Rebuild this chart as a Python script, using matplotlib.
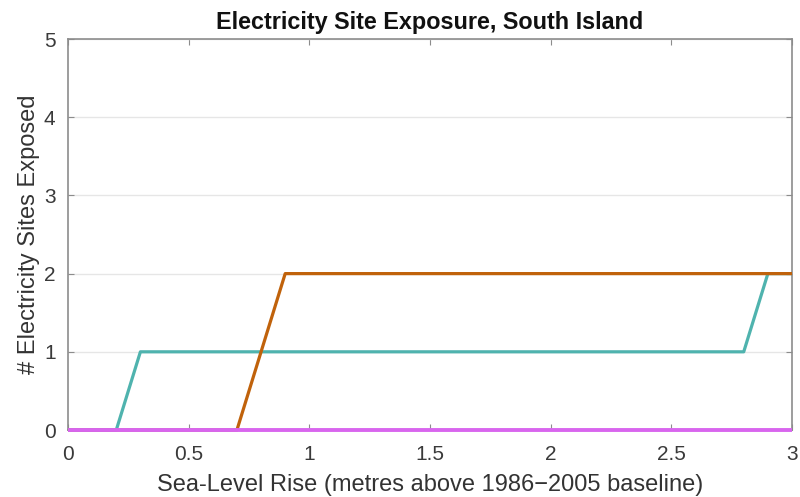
import matplotlib
matplotlib.use("Agg")
import matplotlib.pyplot as plt

plt.rcParams['font.family'] = ['Liberation Sans', 'DejaVu Sans']

# Sea-level rise steps (metres) and exposed site counts per scenario
slr = [0.0, 0.1, 0.2, 0.3, 0.4, 0.5, 0.6, 0.7, 0.8, 0.9, 1.0,
       1.1, 1.2, 1.3, 1.4, 1.5, 1.6, 1.7, 1.8, 1.9, 2.0,
       2.1, 2.2, 2.3, 2.4, 2.5, 2.6, 2.7, 2.8, 2.9, 3.0]
teal_sites = [0, 0, 0, 1, 1, 1, 1, 1, 1, 1, 1,
              1, 1, 1, 1, 1, 1, 1, 1, 1, 1,
              1, 1, 1, 1, 1, 1, 1, 1, 2, 2]
orange_sites = [0, 0, 0, 0, 0, 0, 0, 0, 1, 2, 2,
                2, 2, 2, 2, 2, 2, 2, 2, 2, 2,
                2, 2, 2, 2, 2, 2, 2, 2, 2, 2]
magenta_sites = [0] * len(slr)

x_ticks = [0, 0.5, 1, 1.5, 2, 2.5, 3]
x_ticklabels = ['0', '0.5', '1', '1.5', '2', '2.5', '3']
y_ticks = [0, 1, 2, 3, 4, 5]

fig = plt.figure(figsize=(8, 4.97), dpi=100)
ax = fig.add_axes([0.085, 0.1348, 0.905, 0.7867])

ax.plot(slr, teal_sites, color='#4fb3ae', lw=2.3, solid_capstyle='butt', clip_on=False, zorder=3)
ax.plot(slr, orange_sites, color='#c0620b', lw=2.3, solid_capstyle='butt', clip_on=False, zorder=3)
ax.plot(slr, magenta_sites, color='#d865ee', lw=2.8, solid_capstyle='butt', clip_on=False, zorder=4)

ax.set_xlim(0, 3)
ax.set_ylim(0, 5)
ax.set_xticks(x_ticks)
ax.set_xticklabels(x_ticklabels)
ax.set_yticks(y_ticks)
ax.yaxis.grid(True, color='#e6e6e6', lw=1)
ax.set_axisbelow(True)

for s in ax.spines.values():
    s.set_color('#8c8c8c')
    s.set_linewidth(1.2)

ax.tick_params(axis='both', direction='in', length=4, width=0.8, color='#8c8c8c',
               labelsize=15, labelcolor='#3a3a3a', top=True, right=True)
ax.tick_params(axis='x', pad=11)
ax.tick_params(axis='y', pad=9)

ax.set_title('Electricity Site Exposure, South Island', fontsize=16.8,
             fontweight='bold', color='#111111', pad=7)
ax.set_xlabel('Sea-Level Rise (metres above 1986\u22122005 baseline)', fontsize=17,
              color='#333333', labelpad=7)
ax.set_ylabel('# Electricity Sites Exposed', fontsize=17, color='#333333', labelpad=3)

fig.savefig('out.png', dpi=100)
